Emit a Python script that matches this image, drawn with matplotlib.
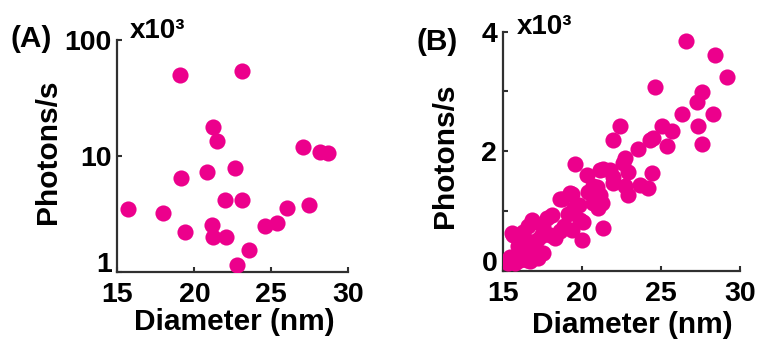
import numpy as np
import matplotlib
matplotlib.use("Agg")
from matplotlib import pyplot as plt
from matplotlib.ticker import FixedLocator, NullLocator

plt.rcParams['font.family'] = ['Liberation Sans', 'DejaVu Sans']
plt.rcParams['font.weight'] = 'bold'

MAGENTA = '#EC008C'
SPINE = '#303030'

# Panel A: diameter (nm) vs photons/s (x10^3), log scale
diam_a = [15.70, 17.95, 19.07, 19.13, 19.39, 20.84, 21.23, 21.45, 21.18, 21.23,
          22.05, 21.99, 22.64, 23.12, 23.08, 22.80, 23.57, 24.59, 25.35, 26.04,
          27.49, 27.06, 28.17, 28.68]
phot_a = [3.47, 3.21, 49.9, 6.42, 2.20, 7.23, 17.9, 13.5, 2.54, 1.99,
          2.02, 4.18, 7.84, 54.4, 4.18, 1.15, 1.55, 2.51, 2.63, 3.54,
          3.78, 12.0, 10.9, 10.7]

# Panel B: diameter (nm) vs photons/s (x10^3), linear scale
diam_b = [26.57, 28.42, 29.16, 24.65, 27.58, 27.26, 26.31, 28.29, 27.37, 27.58,
          25.05, 25.70, 24.50, 24.30, 25.37, 23.55, 22.42, 21.95, 22.73, 24.45,
          22.94, 22.60, 19.57, 20.31, 21.15, 21.78, 21.36, 22.00, 22.73, 21.98,
          20.94, 20.73, 20.40, 21.26, 20.70, 21.36, 19.36, 19.25, 18.73, 18.62,
          24.20, 23.68, 22.94, 21.15, 21.00, 20.85, 19.80, 19.50, 18.10, 17.80,
          19.15, 19.89, 20.00, 20.09, 16.93, 17.57, 16.60, 16.85, 15.67, 15.57,
          16.41, 17.15, 17.99, 18.62, 18.30, 15.99, 16.73, 17.57, 15.46, 16.09,
          16.73, 15.25, 15.78, 16.52, 15.36, 16.20, 17.00, 17.40, 18.90, 19.40,
          16.30, 15.90, 17.20]
phot_b = [3.84, 3.60, 3.24, 3.08, 2.99, 2.82, 2.62, 2.63, 2.42, 2.12,
          2.43, 2.33, 2.22, 2.18, 2.08, 2.04, 2.43, 2.18, 1.89, 1.64,
          1.66, 1.80, 1.79, 1.60, 1.68, 1.68, 1.70, 1.57, 1.42, 1.47,
          1.40, 1.42, 1.32, 1.13, 1.13, 0.71, 1.29, 1.30, 1.21, 1.20,
          1.38, 1.43, 1.27, 1.27, 1.05, 1.20, 1.10, 1.05, 0.93, 0.88,
          0.96, 0.85, 0.52, 0.82, 0.82, 0.74, 0.75, 0.85, 0.60, 0.63,
          0.54, 0.52, 0.60, 0.66, 0.55, 0.41, 0.38, 0.30, 0.24, 0.18,
          0.16, 0.16, 0.13, 0.18, 0.13, 0.30, 0.40, 0.58, 0.75, 0.68,
          0.65, 0.25, 0.22]

fig = plt.figure(figsize=(7.66, 3.41), dpi=100)
W, H = 766.0, 341.0

def add_axes(x0, x1, ytop, ybot):
    return fig.add_axes([x0 / W, 1 - ybot / H, (x1 - x0) / W, (ybot - ytop) / H])

axA = add_axes(117.5, 348, 40, 272)
axB = add_axes(502.7, 740, 31.5, 271)

def style(ax):
    for s in ['top', 'right']:
        ax.spines[s].set_visible(False)
    for s in ['left', 'bottom']:
        ax.spines[s].set_linewidth(1.6)
        ax.spines[s].set_color(SPINE)
    ax.tick_params(direction='in', length=3.5, width=1.5, color=SPINE,
                   labelsize=20.5)
    ax.tick_params(axis='x', pad=7)
    ax.tick_params(axis='y', pad=4)
    ax.set_xlim(15, 30)
    ax.set_xticks([15, 20, 25, 30])

# Panel A
axA.scatter(diam_a, phot_a, s=135, color=MAGENTA, linewidths=0, zorder=3)
axA.set_yscale('log')
style(axA)
axA.set_ylim(1, 100)
axA.yaxis.set_major_locator(FixedLocator([1, 10, 100]))
axA.yaxis.set_minor_locator(NullLocator())
axA.set_yticklabels(['1', '10', '100'])

# Panel B
axB.scatter(diam_b, phot_b, s=135, color=MAGENTA, linewidths=0, zorder=3)
style(axB)
axB.set_ylim(0, 4)
axB.set_yticks([0, 1, 2, 3, 4])
axB.set_yticklabels(['0', '', '2', '', '4'])

for ax, ylx, yly, xlx, xly in [(axA, -0.3015, 0.517, 0.505, -0.215),
                               (axB, -0.243, 0.480, 0.545, -0.225)]:
    ax.text(ylx, yly, 'Photons/s', transform=ax.transAxes, rotation=90,
            ha='center', va='center', fontsize=21.5)
    ax.text(xlx, xly, 'Diameter (nm)', transform=ax.transAxes,
            ha='center', va='center', fontsize=21.5)
    # bottom y label sits above the x axis, like the original
    ax.get_yticklabels()[0].set_verticalalignment('baseline')

fig.text(31 / W, 1 - 39 / H, '(A)', ha='center', va='center', fontsize=21.5)
fig.text(437.5 / W, 1 - 42 / H, '(B)', ha='center', va='center', fontsize=21.5)
fig.text(130 / W, 1 - 31 / H, 'x10\u00b3', ha='left', va='center', fontsize=20)
fig.text(516.7 / W, 1 - 27.5 / H, 'x10\u00b3', ha='left', va='center', fontsize=20)

fig.savefig('out.png', dpi=100)
